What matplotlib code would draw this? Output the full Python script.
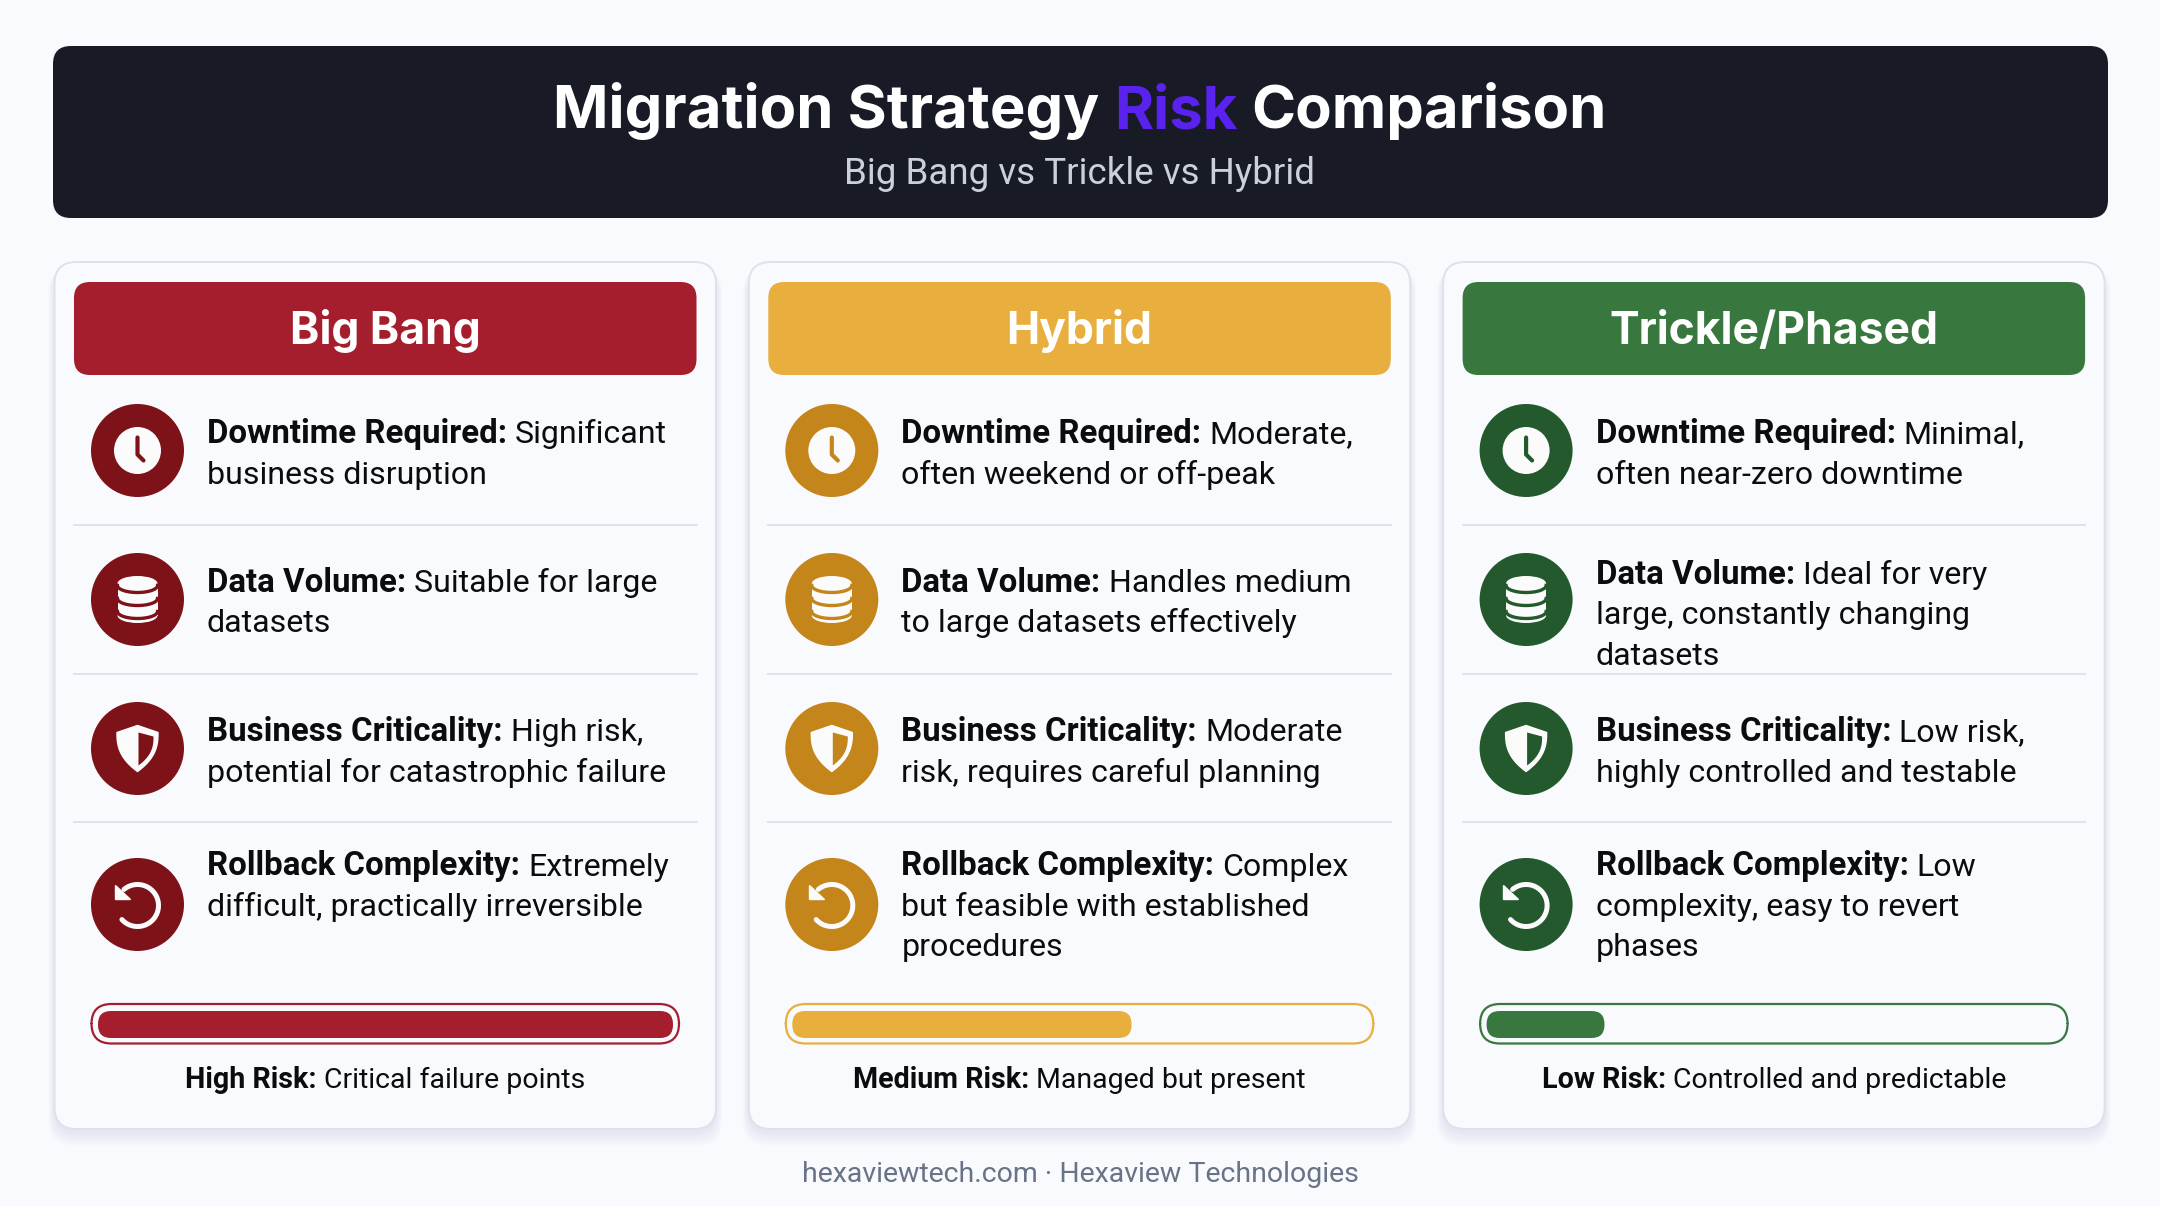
import numpy as np
import matplotlib
matplotlib.use("Agg")
import matplotlib.pyplot as plt
from matplotlib.patches import FancyBboxPatch, Circle, Polygon, Rectangle, Ellipse

FONT = "Inter"
BODY_FONT = "Roboto"
plt.rcParams["font.family"] = [FONT, "DejaVu Sans"]

title_parts = [("Migration Strategy ", "#ffffff"), ("Risk", "#5a22ee"), (" Comparison", "#ffffff")]
subtitle = "Big Bang vs Trickle vs Hybrid"
footer = "hexaviewtech.com · Hexaview Technologies"

strategies = ["Big Bang", "Hybrid", "Trickle/Phased"]
head_colors = ["#a51e2d", "#e8ae3e", "#38783f"]
icon_colors = ["#7e1219", "#c4851a", "#23592c"]
row_labels = ["Downtime Required:", "Data Volume:", "Business Criticality:", "Rollback Complexity:"]
icons = ["clock", "db", "shield", "undo"]

big_bang_rows = [
    ["Significant", "business disruption"],
    ["Suitable for large", "datasets"],
    ["High risk,", "potential for catastrophic failure"],
    ["Extremely", "difficult, practically irreversible"],
]
hybrid_rows = [
    ["Moderate,", "often weekend or off-peak"],
    ["Handles medium", "to large datasets effectively"],
    ["Moderate", "risk, requires careful planning"],
    ["Complex", "but feasible with established", "procedures"],
]
trickle_rows = [
    ["Minimal,", "often near-zero downtime"],
    ["Ideal for very", "large, constantly changing", "datasets"],
    ["Low risk,", "highly controlled and testable"],
    ["Low", "complexity, easy to revert", "phases"],
]
all_rows = [big_bang_rows, hybrid_rows, trickle_rows]

risk_values = [100, 59, 20.5]
risk_names = ["High Risk:", "Medium Risk:", "Low Risk:"]
risk_notes = ["Critical failure points", "Managed but present", "Controlled and predictable"]

BG = "#f8fafd"
W, H = 2160, 1206
fig = plt.figure(figsize=(W / 100, H / 100), dpi=100, facecolor=BG)
ax = fig.add_axes([0, 0, 1, 1])
ax.set_xlim(0, W)
ax.set_ylim(H, 0)
ax.axis("off")
renderer = fig.canvas.get_renderer()


def rbox(x0, y0, x1, y1, r, fc="none", ec="none", lw=0, alpha=None, z=2):
    p = FancyBboxPatch((x0, y0), x1 - x0, y1 - y0, boxstyle=f"round,pad=0,rounding_size={r}",
                       fc=fc, ec=ec, lw=lw, alpha=alpha, zorder=z)
    ax.add_patch(p)
    return p


def measure(s, size, weight, fam):
    t = ax.text(0, 0, s, fontsize=size, fontweight=weight, family=fam)
    w = t.get_window_extent(renderer).width
    t.remove()
    return w


def space_w(size, weight, fam):
    return measure("n n", size, weight, fam) - measure("nn", size, weight, fam)


def seg_line(x, y, segs, center=False, fam=FONT):
    """segs: list of (text, weight, color, size); text sits on baseline y."""
    widths = []
    for s, wt, c, size in segs:
        lead = space_w(size, wt, fam) * (len(s) - len(s.lstrip(" ")))
        trail = space_w(size, wt, fam) * (len(s) - len(s.rstrip(" ")))
        widths.append((measure(s.strip(" "), size, wt, fam), lead, trail))
    total = sum(a + b + c for a, b, c in widths)
    cx = x - total / 2 if center else x
    for (s, wt, c, size), (w, lead, trail) in zip(segs, widths):
        cx += lead
        ax.text(cx, y, s.strip(" "), fontsize=size, fontweight=wt, color=c, family=fam,
                va="baseline", ha="left", zorder=6)
        cx += w + trail


def draw_icon(kind, cx, cy, col):
    ax.add_patch(Circle((cx, cy), 46.5, fc=col, ec="none", zorder=4))
    white = "#fbfbfb"
    if kind == "clock":
        ax.add_patch(Circle((cx, cy), 23.5, fc=white, ec="none", zorder=5))
        ax.plot([cx, cx, cx + 6], [cy - 13, cy + 4, cy + 10], color=col, lw=3,
                solid_capstyle="round", solid_joinstyle="round", zorder=6)
    elif kind == "db":
        ax.add_patch(Rectangle((cx - 20, cy - 16), 40, 32, fc=white, ec="none", zorder=5))
        ax.add_patch(Ellipse((cx, cy - 16), 40, 15, fc=white, ec="none", zorder=5))
        ax.add_patch(Ellipse((cx, cy + 16), 40, 15, fc=white, ec="none", zorder=5))
        th = np.linspace(0, np.pi, 40)
        for dy in (-14, -1, 12):
            ax.plot(cx + 20 * np.cos(th), cy + dy + 7 * np.sin(th), color=col, lw=2.4, zorder=6)
    elif kind == "shield":
        t = np.linspace(0, 1, 30)
        rx = np.concatenate([[0, 20.5], 20.5 * (1 - t ** 2.6)])
        ry = np.concatenate([[-23, -16], -16 + t * 39])
        ax.add_patch(Polygon(np.column_stack([cx + np.concatenate([rx, -rx[::-1]]),
                                              cy + np.concatenate([ry, ry[::-1]])]),
                             closed=True, fc=white, ec="white", lw=1, joinstyle="round", zorder=5))
        inner = np.column_stack([cx + np.concatenate([[1, 16], 15 * (1 - t ** 2.6) + 1]),
                                 cy + np.concatenate([[-16, -12], -12 + t * 29])])
        ax.add_patch(Polygon(inner, closed=True, fc=col, ec="none", zorder=6))
    elif kind == "undo":
        th = np.radians(np.linspace(-130, 138, 80))
        ax.plot(cx + 21 * np.cos(th), cy + 1 + 21 * np.sin(th), color=white, lw=3.6,
                solid_capstyle="round", zorder=5)
        ax.add_patch(Polygon([[cx - 23, cy - 20], [cx - 23, cy - 6], [cx - 8, cy - 6]],
                             closed=True, fc=white, ec=white, lw=1, zorder=6))


# page header
rbox(53, 46, 2108, 218, 18, fc="#181a26", z=3)
seg_line(1080, 128.5, [(s, "bold", c, 43) for s, c in title_parts], center=True)
ax.text(1080, 183.5, subtitle, fontsize=26.5, color="#ccd0da", ha="center", va="baseline", zorder=6, family=BODY_FONT)

# cards
icon_ys = [450.5, 599.5, 748.5, 904.5]
divider_ys = [525, 674, 822]
first_base = [443, 592, 741, 875.5]
LINE = 40.5
BOLD_SIZE = 23.8
BODY = 23.1
INK = "#0b0c10"

for i, name in enumerate(strategies):
    off = 694.3 * i
    x0, x1 = 54.5 + off, 716 + off
    y0, y1 = 262, 1129
    for k in range(10, 0, -1):
        rbox(x0 - k * 0.6, y0 + 6, x1 + k * 0.6, y1 + 3 + k * 1.4, 24, fc="#5a6a80", alpha=0.009, z=1)
    rbox(x0, y0, x1, y1, 22, fc=BG, ec="#dde2e9", lw=1.4, z=2)
    rbox(x0 + 19.5, 282, x1 - 19.5, 375, 16, fc=head_colors[i], z=3)
    ax.text((x0 + x1) / 2, 344, name, fontsize=32, fontweight="bold", color="#ffffff",
            ha="center", va="baseline", zorder=6)
    for dy in divider_ys:
        ax.plot([x0 + 19.5, x1 - 19.5], [dy, dy], color="#dfe3e9", lw=1.4, zorder=3)
    for j, label in enumerate(row_labels):
        draw_icon(icons[j], x0 + 83, icon_ys[j], icon_colors[i])
        lines = all_rows[i][j]
        base = first_base[j] - (8 if (j == 1 and len(lines) == 3) else 0)
        tx = x0 + 152.5
        seg_line(tx, base, [(label + " ", "bold", INK, BOLD_SIZE), (lines[0], "normal", INK, BODY)], fam=BODY_FONT)
        for n, extra in enumerate(lines[1:], start=1):
            ax.text(tx, base + LINE * n, extra, fontsize=BODY, color=INK, va="baseline", ha="left",
                    zorder=6, family=BODY_FONT)
    # risk bar
    rbox(x0 + 37, 1004, x1 - 37, 1043.5, 20, fc=BG, ec=head_colors[i], lw=1.6, z=3)
    fill_w = 575 * risk_values[i] / 100
    rbox(x0 + 43.5, 1011, x0 + 43.5 + fill_w, 1038, 13, fc=head_colors[i], z=4)
    seg_line((x0 + x1) / 2, 1088, [(risk_names[i] + " ", "bold", INK, 20.6), (risk_notes[i], "normal", INK, 20.5)],
             center=True, fam=BODY_FONT)

ax.text(1080, 1182, footer, fontsize=20.5, color="#687385", ha="center", va="baseline", zorder=6, family=BODY_FONT)

fig.savefig("out.png", dpi=100, facecolor=BG)
